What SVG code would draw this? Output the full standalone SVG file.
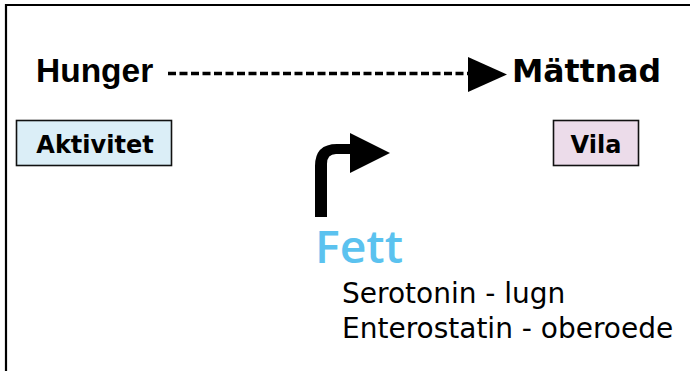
<svg xmlns="http://www.w3.org/2000/svg" width="690" height="371" viewBox="0 0 690 371">
<style>
.bold{font-family:"Liberation Sans",Arial,sans-serif;font-weight:bold;fill:#000}
.wide{font-family:"DejaVu Sans",Verdana,sans-serif;font-weight:bold;fill:#000}
.hum{font-family:"DejaVu Sans","Open Sans",sans-serif;fill:#000}
.box{stroke:#111;stroke-width:1.6}
</style>
<rect width="690" height="371" fill="#fff"/>
<path d="M6,371 V5 H690" fill="none" stroke="#000" stroke-width="2.2"/>
<g id="hunger"><text class="bold" x="36" y="82" font-size="33.5">Hunger</text></g>
<g id="mattnad"><text class="wide" x="512" y="82" font-size="31.5">Mättnad</text></g>
<g id="aktivitet"><rect class="box" x="16.5" y="120.5" width="155" height="45" fill="#dbeef7"/><text class="wide" x="95" y="153" font-size="24" text-anchor="middle">Aktivitet</text></g>
<g id="vila"><rect class="box" x="553.5" y="120.5" width="85" height="45" fill="#ecdcea"/><text class="wide" x="596" y="153" font-size="24" text-anchor="middle">Vila</text></g>
<g id="fett"><text x="315" y="263" font-size="46" font-weight="600" textLength="88" lengthAdjust="spacingAndGlyphs" style="fill:#5bc2ef;font-family:'Open Sans','DejaVu Sans',sans-serif">Fett</text>
<text class="hum" x="342" y="303" font-size="28">Serotonin - lugn</text>
<text class="hum" x="342" y="338" font-size="28">Enterostatin - oberoede</text></g>
<g id="connectors">
<line x1="168" y1="73.5" x2="470" y2="73.5" stroke="#000" stroke-width="3.5" stroke-dasharray="8,3.5"/>
<polygon points="468,57 507,74.5 468,92" fill="#000"/>
<path d="M315,217 L315,166 Q315,144 337,144 L350,144 L350,133 L390,153 L350,173 L350,154 L336,154 Q327,154 327,164 L327,217 Z" fill="#000"/>
</g>
</svg>
